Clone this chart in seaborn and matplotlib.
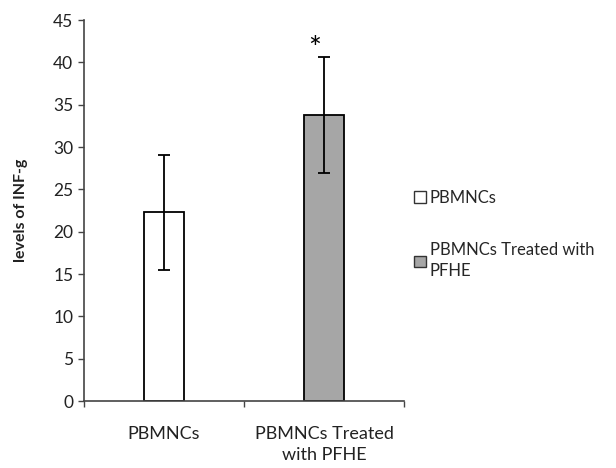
import matplotlib
matplotlib.use("Agg")
import matplotlib.pyplot as plt
import seaborn as sns
import pandas as pd
from matplotlib.patches import Patch

groups = ["PBMNCs", "PBMNCs Treated\nwith PFHE"]
legend_labels = ["PBMNCs", "PBMNCs Treated with\nPFHE"]
levels = [22.3, 33.8]
errors = [6.8, 6.9]
bar_colors = ["#ffffff", "#a6a6a6"]

sns.set_theme(style="white")
plt.rcParams["font.family"] = ["Lato", "DejaVu Sans"]

df = pd.DataFrame({"group": groups, "level": levels})

fig = plt.figure(figsize=(6.16, 4.68), dpi=100)
ax = fig.add_axes([0.136, 0.143, 0.52, 0.814])

sns.barplot(data=df, x="group", y="level", hue="group", palette=bar_colors,
            width=0.25, edgecolor="black", linewidth=1.3, legend=False, ax=ax)
ax.errorbar(range(len(levels)), levels, yerr=errors, fmt="none",
            ecolor="black", elinewidth=1.3, capsize=4, capthick=1.3)
ax.text(0.94, 41.6, "*", ha="center", va="center", fontsize=22, color="black")

ax.set_ylim(0, 45)
ax.set_xlim(-0.5, 1.5)
ax.set_yticks(range(0, 46, 5))
ax.set_xlabel("")
ax.set_ylabel("levels of INF-g", fontsize=11.5, fontweight="bold", color="#222222",
              labelpad=18)
ax.tick_params(axis="y", labelsize=12.5, length=4, width=1, direction="out",
               left=True, colors="#444444", labelcolor="#222222")
ax.tick_params(axis="x", labelsize=13, length=0, labelcolor="#222222", pad=18)
for lab in ax.get_xticklabels():
    lab.set_linespacing(1.35)
ax.set_xticks([-0.5, 0.5, 1.5], minor=True)
ax.tick_params(axis="x", which="minor", length=4, width=1, bottom=True, colors="#444444")

for side in ["top", "right"]:
    ax.spines[side].set_visible(False)
for side in ["left", "bottom"]:
    ax.spines[side].set_color("#444444")
    ax.spines[side].set_linewidth(1.2)

handles = [Patch(facecolor=c, edgecolor="#333333", linewidth=1) for c in bar_colors]
leg = fig.legend(handles, legend_labels, loc="upper left", bbox_to_anchor=(0.672, 0.595),
                 frameon=False, fontsize=12, handlelength=0.7, handleheight=0.7,
                 handletextpad=0.25, labelspacing=2.2, borderpad=0, borderaxespad=0)
for t in leg.get_texts():
    t.set_linespacing(1.4)

fig.savefig("out.png", dpi=100, facecolor="white")
